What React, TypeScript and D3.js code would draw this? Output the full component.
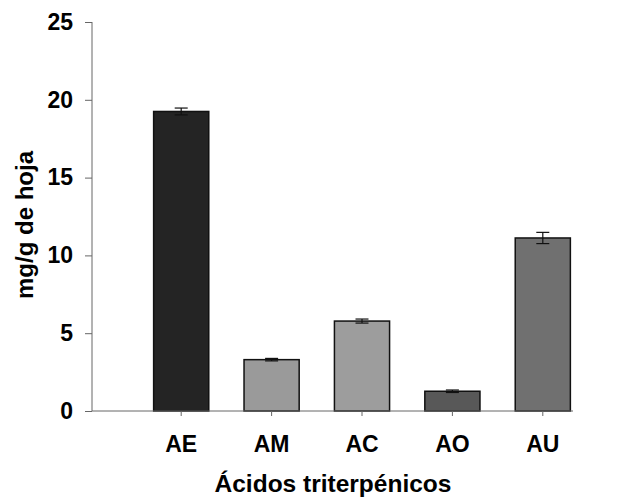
import { useEffect, useRef } from 'react';
import * as d3 from 'd3';

const categories = ['AE', 'AM', 'AC', 'AO', 'AU'];
const values = [19.25, 3.3, 5.78, 1.27, 11.12];
const errors = [0.22, 0.08, 0.13, 0.08, 0.36];
const barColors = ['#242424', '#9a9a9a', '#9d9d9d', '#585858', '#707070'];
const yTicks = [0, 5, 10, 15, 20, 25];

const App = () => {
  const svgRef = useRef<SVGSVGElement>(null);

  useEffect(() => {
    document.body.style.margin = '0';
    if (!svgRef.current) return;
    const svg = d3.select(svgRef.current);
    svg.selectAll('*').remove();

    const font = '"Liberation Sans", Arial, sans-serif';
    const axisLeftX = 92;
    const axisRightX = 573;

    const x = d3.scaleBand()
      .domain(categories)
      .range([136, 588])
      .paddingInner(0.39)
      .paddingOuter(0.195);

    const y = d3.scaleLinear().domain([0, 25]).range([411, 22]);

    // bars
    svg.append('g')
      .selectAll('rect')
      .data(categories)
      .join('rect')
      .attr('x', d => x(d)!)
      .attr('y', (_, i) => y(values[i]))
      .attr('width', x.bandwidth())
      .attr('height', (_, i) => y(0) - y(values[i]))
      .attr('fill', (_, i) => barColors[i])
      .attr('stroke', '#111')
      .attr('stroke-width', 1.5);

    // error bars
    const err = svg.append('g').attr('stroke', '#111').attr('stroke-width', 1.2);
    categories.forEach((c, i) => {
      const cx = x(c)! + x.bandwidth() / 2;
      const hi = y(values[i] + errors[i]);
      const lo = y(values[i] - errors[i]);
      err.append('line').attr('x1', cx).attr('x2', cx).attr('y1', hi).attr('y2', lo);
      err.append('line').attr('x1', cx - 6.5).attr('x2', cx + 6.5).attr('y1', hi).attr('y2', hi);
      err.append('line').attr('x1', cx - 6.5).attr('x2', cx + 6.5).attr('y1', lo).attr('y2', lo);
    });

    // y axis
    const yAxis = svg.append('g')
      .attr('transform', `translate(${axisLeftX},0)`)
      .call(d3.axisLeft(y).tickValues(yTicks).tickSize(7).tickPadding(12).tickFormat(d => `${d}`));
    yAxis.select('.domain').attr('stroke', '#666').attr('d', `M0,${y(25)}V${y(0)}`);
    yAxis.selectAll('.tick line').attr('stroke', '#666');
    yAxis.selectAll('.tick text')
      .style('font-family', font)
      .style('font-weight', 'bold')
      .style('font-size', '23px')
      .attr('fill', '#000');

    // x axis
    const xAxis = svg.append('g')
      .attr('transform', `translate(0,${y(0)})`)
      .call(d3.axisBottom(x).tickSize(5).tickPadding(20));
    xAxis.select('.domain').attr('stroke', '#666').attr('d', `M${axisLeftX},0H${axisRightX}`);
    xAxis.selectAll('.tick line').attr('stroke', '#666');
    xAxis.selectAll('.tick text')
      .style('font-family', font)
      .style('font-weight', 'bold')
      .style('font-size', '23px')
      .attr('fill', '#000');

    // axis titles
    svg.append('text')
      .attr('x', 333)
      .attr('y', 492)
      .attr('text-anchor', 'middle')
      .style('font-family', font)
      .style('font-weight', 'bold')
      .style('font-size', '24.5px')
      .text('Ácidos triterpénicos');

    svg.append('text')
      .attr('transform', `translate(33,225) rotate(-90)`)
      .attr('text-anchor', 'middle')
      .style('font-family', font)
      .style('font-weight', 'bold')
      .style('font-size', '24px')
      .text('mg/g de hoja');
  }, []);

  return <svg ref={svgRef} width={624} height={497} style={{ display: 'block', background: '#fff' }} />;
};

export default App;
